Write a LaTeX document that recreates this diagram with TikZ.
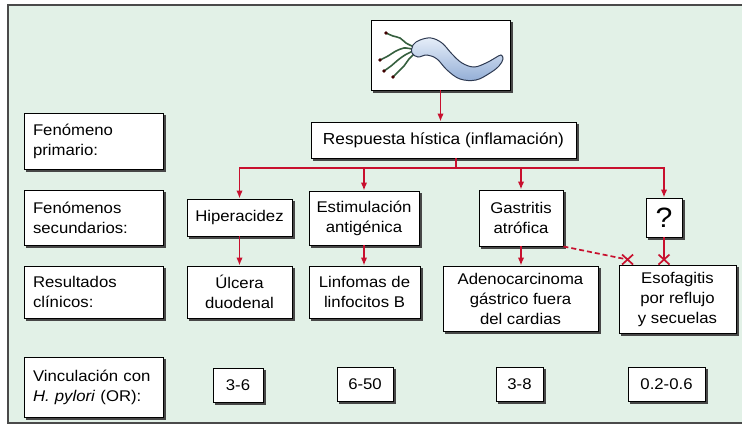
\documentclass[tikz,border=0pt]{standalone}
\usepackage{fontspec}
\setmainfont{Liberation Sans}[FakeStretch=1.08]
\usetikzlibrary{arrows.meta,calc,backgrounds}

\definecolor{panel}{HTML}{E2F1E7}
\definecolor{linkred}{HTML}{C8102E}
\definecolor{framegray}{HTML}{4A4A4A}
\definecolor{flag}{HTML}{355F3E}
\definecolor{bodyedge}{HTML}{2E3A52}
\definecolor{bodytop}{HTML}{E6EEF9}
\definecolor{bodybot}{HTML}{93AED6}

\tikzset{
  box/.style={draw=black, fill=white, line width=0.9pt, inner sep=0pt, align=center,
    font=\fontsize{15.5}{20}\selectfont},
  labelbox/.style={box, minimum width=139pt, text width=121pt, align=left},
  boxshadow/.style={fill=black!72},
  link/.style={draw=linkred, line width=1.7pt},
  arr/.style={link, -{Latex[length=8pt,width=6.5pt]}},
  maybe/.style={link, dash pattern=on 5pt off 3pt},
  flagellum/.style={draw=flag, line width=1.6pt, line cap=round},
  xmark/.pic={\draw[link] (-5.5pt,-5pt) -- (5.5pt,5pt) (-5.5pt,5pt) -- (5.5pt,-5pt);}
}

\begin{document}
\begin{tikzpicture}[x=1pt,y=-1pt]
\useasboundingbox (0,0) rectangle (742,426);
\clip (0,0) rectangle (742,426);

% panel
\begin{scope}[on background layer]
\fill[panel] (8,5) rectangle (760,423);
\draw[framegray, line width=1.3pt] (760,5) -- (8,5) -- (8,423) -- (760,423);
\end{scope}

% row labels
\node[labelbox, minimum height=56pt] (lprim) at (93.5,141) {Fenómeno\\primario:};
\node[labelbox, minimum height=55pt] (lsec) at (93.5,217.5) {Fenómenos\\secundarios:};
\node[labelbox, minimum height=52pt] (lres) at (93.5,292) {Resultados\\clínicos:};
\node[labelbox, minimum height=60pt] (lvin) at (93.5,387) {Vinculación con\\\textit{H. pylori} (OR):};

% organism and primary response
\node[box, minimum width=139pt, minimum height=70pt] (bact) at (440.5,55) {};
\node[box, minimum width=265pt, minimum height=36pt, font=\fontsize{16}{20}\selectfont] (resp) at (443.5,140) {Respuesta hística (inflamación)};

% secondary phenomena
\node[box, minimum width=105pt, minimum height=37pt] (hip) at (239.5,217.5) {Hiperacidez};
\node[box, minimum width=110pt, minimum height=54pt] (est) at (364,218) {Estimulación\\antigénica};
\node[box, minimum width=84pt, minimum height=56pt] (gas) at (521,218) {Gastritis\\atrófica};
\node[box, minimum width=36pt, minimum height=39pt, font=\fontsize{28}{30}\selectfont] (q) at (664,217.5) {?};

% clinical outcomes
\node[box, minimum width=105pt, minimum height=52pt] (ulc) at (239.5,292) {Úlcera\\duodenal};
\node[box, minimum width=111pt, minimum height=52pt] (lin) at (364.5,292) {Linfomas de\\linfocitos B};
\node[box, minimum width=155pt, minimum height=65pt] (ade) at (520.5,298.5) {Adenocarcinoma\\gástrico fuera\\del cardias};
\node[box, minimum width=117pt, minimum height=68pt] (eso) at (677.5,299) {Esofagitis\\por reflujo\\y secuelas};

% odds ratios
\node[box, minimum width=50pt, minimum height=34pt] (or1) at (238,385) {3-6};
\node[box, minimum width=56pt, minimum height=34pt] (or2) at (365,384) {6-50};
\node[box, minimum width=47pt, minimum height=34pt] (or3) at (519.5,384) {3-8};
\node[box, minimum width=77pt, minimum height=34pt] (or4) at (666.5,384) {0.2-0.6};

% drop shadows behind every box
\begin{scope}[on background layer]
\foreach \n in {lprim,lsec,lres,lvin,bact,resp,hip,est,gas,q,ulc,lin,ade,eso,or1,or2,or3,or4}
  \fill[boxshadow] ($(\n.south west)+(2.2,2.2)$) rectangle ($(\n.north east)+(2.2,2.2)$);
\end{scope}

% the bacterium: flagella
\draw[flagellum] plot[smooth] coordinates {(414,47) (406,43) (400,38) (393,36) (386,33)};
\draw[flagellum] plot[smooth] coordinates {(412,49) (404,48) (396,51) (388,56) (380,60)};
\draw[flagellum] plot[smooth] coordinates {(413,51) (405,55) (398,60) (391,66) (384,71)};
\draw[flagellum] plot[smooth] coordinates {(415,53) (409,59) (404,66) (398,72) (393,77)};
\foreach \p in {(386,33),(380,60),(384,71),(393,77)}
  \fill[black!75!red] \p circle (1.8);
% the bacterium: body
\path[draw=bodyedge, line width=1pt, top color=bodytop, bottom color=bodybot]
  plot[smooth cycle, tension=0.6] coordinates {
    (413,45) (420,40) (431,38) (442,43) (452,54) (462,63) (474,67) (486,63) (495,58) (501,55)
    (503,59) (499,66) (490,73) (476,80) (460,79) (447,70) (437,59) (427,55) (418,57) (412,53)};

% connectors
\coordinate (j) at (456,168);
\draw[arr] (bact.south) -- (bact.south |- resp.north);
\draw[link] (j |- resp.south) -- (j);
\draw[arr] (j) -| (hip.north);
\draw[arr] (j) -| (est.north);
\draw[arr] (j) -| (gas.north);
\draw[arr] (j) -| (q.north);
\draw[arr] (hip.south) -- (hip.south |- ulc.north);
\draw[arr] (est.south) -- (est.south |- lin.north);
\draw[arr] (gas.south) -- (gas.south |- ade.north);

\coordinate (xq) at ($(q.south |- eso.north)+(0,-5)$);
\coordinate (xg) at ($(eso.north west)+(9,-5)$);
\draw[link] (q.south) -- (xq);
\draw[maybe] (gas.south east) -- (xg);
\pic at (xq) {xmark};
\pic at (xg) {xmark};
\end{tikzpicture}
\end{document}
